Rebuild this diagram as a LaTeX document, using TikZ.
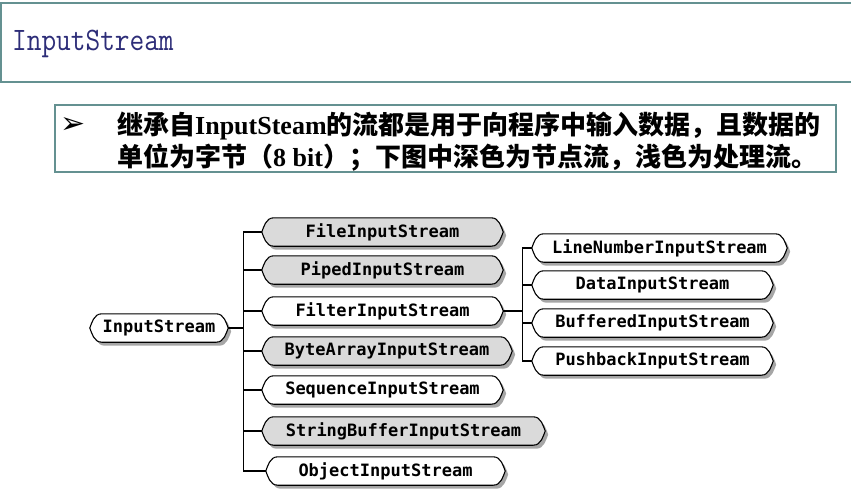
\documentclass[tikz,border=0pt]{standalone}
\usepackage{fontspec}
\usepackage{graphicx}
\usetikzlibrary{calc,backgrounds}
\newfontfamily\cjk{Noto Sans CJK SC}
\newfontfamily\serifb{Liberation Serif}
\newfontfamily\boxfont{DejaVu Sans Mono}
\newfontfamily\symfont{DejaVu Sans}
\definecolor{framecol}{RGB}{100,145,145}
\definecolor{titleblue}{RGB}{45,45,120}
\definecolor{nodegray}{RGB}{218,218,218}
\tikzset{
  stream/.style={minimum height=28pt,inner sep=0pt,
    font=\boxfont\bfseries\fontsize{17}{17}\selectfont},
  link/.style={line width=1.3pt},
  note/.style={anchor=west,inner sep=0pt,
    font=\cjk\bfseries\fontsize{26}{26}\selectfont},
}
\begin{document}
\begin{tikzpicture}[x=1pt,y=-1pt]
  \useasboundingbox (0,0) rectangle (851,501);
  % title bar
  \draw[framecol,line width=1.2pt] (851,3) -- (1,3) -- (1,82) -- (851,82);
  \node[anchor=west,inner sep=0pt,text=titleblue,
    font=\ttfamily\fontsize{28.5}{28.5}\selectfont] (title) at (12,44)
    {\scalebox{1}[1.15]{InputStream}};
  % note box
  \draw[framecol,line width=1.2pt] (55,105) rectangle (836,172);
  \node[font=\symfont\fontsize{30}{30}\selectfont] (bullet) at (73,125) {➢};
  \node[note] (line1) at (117,126)
    {继承自{\serifb\bfseries InputSteam}的流都是用于向程序中输入数据，且数据的};
  \node[note] (line2) at (117,158)
    {单位为字节（{\serifb\bfseries 8 bit}）；下图中深色为节点流，浅色为处理流。};
  % class tree
  \node[stream,minimum width=138pt] (in) at (159,328) {InputStream};
  \node[stream,minimum width=241pt] (file) at (382.5,232) {FileInputStream};
  \node[stream,minimum width=241pt] (piped) at (382.5,270) {PipedInputStream};
  \node[stream,minimum width=241pt] (filter) at (382.5,311) {FilterInputStream};
  \node[stream,minimum width=250pt] (bytearray) at (387,351) {ByteArrayInputStream};
  \node[stream,minimum width=241pt] (sequence) at (382.5,390) {SequenceInputStream};
  \node[stream,minimum width=283pt] (stringbuffer) at (403.5,431) {StringBufferInputStream};
  \node[stream,minimum width=239pt] (object) at (385.5,471) {ObjectInputStream};
  \node[stream,minimum width=255pt] (linenumber) at (659.5,248) {LineNumberInputStream};
  \node[stream,minimum width=241pt] (data) at (652.5,285) {DataInputStream};
  \node[stream,minimum width=241pt] (buffered) at (652.5,323) {BufferedInputStream};
  \node[stream,minimum width=241pt] (pushback) at (652.5,361) {PushbackInputStream};
  % outlines behind the text
  \begin{scope}[on background layer]
    \foreach \nd/\col in {in/white,file/nodegray,piped/nodegray,filter/white,
        bytearray/nodegray,sequence/white,stringbuffer/nodegray,object/white,
        linenumber/white,data/white,buffered/white,pushback/white}
      \draw[line width=1.1pt,fill=\col,
        preaction={fill=black!35,transform canvas={xshift=3pt,yshift=-3.5pt}}]
        let \p1=(\nd.north west), \p2=(\nd.south east), \p3=(\nd.west) in
        (\x1+12pt,\y1) -- (\x2-12pt,\y1)
        .. controls (\x2-4pt,\y1) and (\x2-2pt,\y3+5pt) .. (\x2,\y3)
        .. controls (\x2-2pt,\y3-5pt) and (\x2-4pt,\y2) .. (\x2-12pt,\y2)
        -- (\x1+12pt,\y2)
        .. controls (\x1+4pt,\y2) and (\x1+2pt,\y3-5pt) .. (\x1,\y3)
        .. controls (\x1+2pt,\y3+5pt) and (\x1+4pt,\y1) .. cycle;
  \end{scope}
  % connectors
  \coordinate (trunk) at ($(in.east)+(15,0)$);
  \coordinate (branch) at ($(filter.east)+(19,0)$);
  \draw[link] (in.east) -- (trunk);
  \draw[link] (trunk |- file.west) -- (trunk |- object.west);
  \foreach \c in {file,piped,filter,bytearray,sequence,stringbuffer,object}
    \draw[link] (trunk |- \c.west) -- (\c.west);
  \draw[link] (filter.east) -- (branch);
  \draw[link] (branch |- linenumber.west) -- (branch |- pushback.west);
  \foreach \c in {linenumber,data,buffered,pushback}
    \draw[link] (branch |- \c.west) -- (\c.west);
\end{tikzpicture}
\end{document}
